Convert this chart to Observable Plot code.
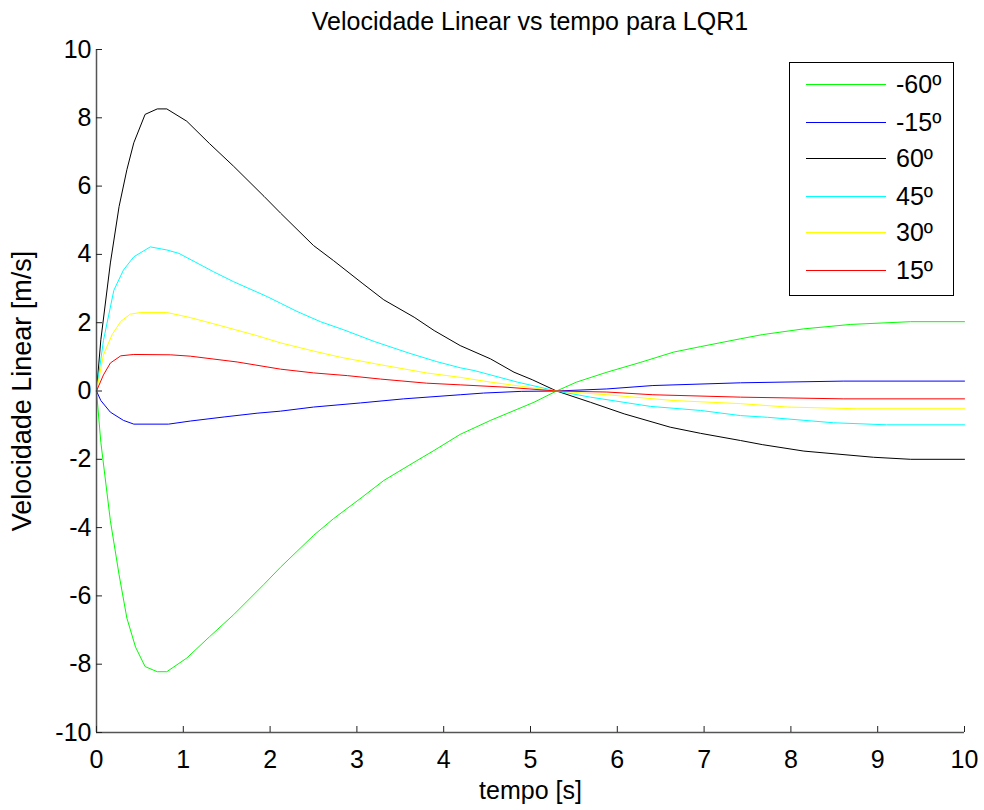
<!DOCTYPE html>
<html>
<head>
<meta charset="utf-8">
<script src="https://cdn.jsdelivr.net/npm/d3@7"></script>
<script src="https://cdn.jsdelivr.net/npm/@observablehq/plot@0.6"></script>
<style>
  body { margin: 0; background: #fff; font-family: "Liberation Sans", Arial, sans-serif; }
  #wrap { position: relative; width: 984px; height: 810px; overflow: hidden; }
  #title { position: absolute; left: 96px; width: 868px; top: 6px; text-align: center; font-size: 25px; line-height: 30px; color: #000; }
  #legend { position: absolute; left: 789px; top: 62px; width: 165px; height: 234px; border: 1.5px solid #000; box-sizing: border-box; background: #fff; }
  .row { position: absolute; left: 0; height: 30px; width: 100%; }
  .sw { position: absolute; left: 16px; width: 80px; top: 15px; height: 1px; }
  .lab { position: absolute; left: 106px; top: 0; font-size: 25px; line-height: 30px; color: #000; }
</style>
</head>
<body>
<div id="wrap">
  <div id="title"></div>
  <div id="chart"></div>
  <div id="legend"></div>
</div>
<script>
// ---- data ----
const chartTitle = "Velocidade Linear vs tempo para LQR1";
const xLabel = "tempo [s]";
const yLabel = "Velocidade Linear [m/s]";
const xTicks = [0, 1, 2, 3, 4, 5, 6, 7, 8, 9, 10];
const yTicks = [-10, -8, -6, -4, -2, 0, 2, 4, 6, 8, 10];

const labels = ["-60º", "-15º", "60º", "45º", "30º", "15º"];
const colors = ["#00ff00", "#0000ff", "#000000", "#00ffff", "#ffff00", "#ff0000"];

// -60º (green)
const tNeg60 = [0, 0.05, 0.16, 0.26, 0.35, 0.45, 0.56, 0.70, 0.81, 1.04, 1.30, 1.58, 1.93, 2.12, 2.50, 2.73, 3.06, 3.31, 3.69, 3.89, 4.19, 4.54, 5.04, 5.30, 5.53, 5.88, 6.27, 6.65, 6.96, 7.42, 7.67, 8.15, 8.69, 9.38, 10];
const vNeg60 = [0, -1.5, -3.80, -5.38, -6.65, -7.50, -8.07, -8.22, -8.22, -7.82, -7.20, -6.55, -5.66, -5.16, -4.23, -3.74, -3.11, -2.62, -2.04, -1.74, -1.27, -0.86, -0.33, 0, 0.26, 0.55, 0.84, 1.14, 1.30, 1.53, 1.65, 1.82, 1.95, 2.03, 2.03];
// -15º (blue)
const tNeg15 = [0, 0.05, 0.16, 0.31, 0.43, 0.83, 1.08, 1.47, 1.85, 2.12, 2.50, 3.04, 3.54, 4.19, 4.46, 4.90, 5.30, 5.88, 6.41, 7.42, 8.61, 10];
const vNeg15 = [0, -0.28, -0.62, -0.86, -0.97, -0.97, -0.88, -0.76, -0.65, -0.59, -0.47, -0.35, -0.23, -0.11, -0.06, -0.01, 0, 0.06, 0.16, 0.24, 0.29, 0.29];
// 60º (black)
const tPos60 = [0, 0.05, 0.16, 0.26, 0.35, 0.43, 0.56, 0.70, 0.81, 1.04, 1.30, 1.58, 1.93, 2.12, 2.50, 2.73, 3.06, 3.31, 3.66, 3.89, 4.19, 4.54, 4.81, 5.02, 5.30, 5.69, 6.08, 6.61, 6.96, 7.42, 7.67, 8.15, 8.95, 9.38, 10];
const vPos60 = [0, 1.5, 3.75, 5.40, 6.48, 7.27, 8.10, 8.26, 8.26, 7.90, 7.25, 6.58, 5.70, 5.21, 4.26, 3.82, 3.16, 2.67, 2.16, 1.77, 1.33, 0.94, 0.55, 0.33, 0, -0.33, -0.67, -1.06, -1.24, -1.45, -1.57, -1.76, -1.94, -2.00, -2.00];
// 45º (cyan)
const tPos45 = [0, 0.08, 0.20, 0.31, 0.43, 0.62, 0.81, 0.95, 1.35, 1.58, 1.97, 2.12, 2.31, 2.58, 2.85, 3.20, 3.60, 3.92, 4.19, 4.35, 4.85, 5.30, 5.69, 6.38, 6.96, 7.42, 7.73, 8.49, 9.10, 10];
const vPos45 = [0, 1.48, 2.95, 3.54, 3.93, 4.22, 4.13, 4.03, 3.49, 3.20, 2.76, 2.57, 2.33, 2.03, 1.79, 1.45, 1.11, 0.86, 0.68, 0.60, 0.26, 0, -0.18, -0.45, -0.57, -0.72, -0.77, -0.93, -0.99, -0.99];
// 30º (yellow)
const tPos30 = [0, 0.08, 0.18, 0.28, 0.39, 0.51, 0.81, 1.08, 1.39, 1.85, 2.12, 2.50, 2.81, 3.27, 3.80, 4.19, 4.54, 5.30, 5.88, 6.65, 7.42, 7.96, 8.76, 10];
const vPos30 = [0, 1.06, 1.65, 2.04, 2.25, 2.30, 2.30, 2.15, 1.94, 1.62, 1.41, 1.17, 0.99, 0.77, 0.53, 0.40, 0.26, 0, -0.11, -0.28, -0.37, -0.47, -0.52, -0.52];
// 15º (red)
const tPos15 = [0, 0.08, 0.16, 0.28, 0.43, 0.85, 1.08, 1.62, 2.12, 2.50, 2.89, 3.27, 3.80, 4.19, 4.73, 5.30, 5.88, 6.41, 7.42, 8.61, 10];
const vPos15 = [0, 0.47, 0.82, 1.03, 1.07, 1.06, 1.02, 0.85, 0.64, 0.53, 0.45, 0.35, 0.23, 0.18, 0.11, 0, -0.03, -0.11, -0.18, -0.23, -0.23];

const times = [tNeg60, tNeg15, tPos60, tPos45, tPos30, tPos15];
const values = [vNeg60, vNeg15, vPos60, vPos45, vPos30, vPos15];

// ---- build ----
const W = 984, H = 810, mL = 96, mR = 20, mT = 49, mB = 78;
const innerW = W - mL - mR, innerH = H - mT - mB;
const tickLen = 6;
const font = '"Liberation Sans", Arial, sans-serif';

const lineMarks = labels.map((lab, i) => {
  const rows = times[i].map((t, j) => ({t, v: values[i][j]}));
  return Plot.line(rows, {x: "t", y: "v", stroke: colors[i], strokeWidth: 1});
});

const chart = Plot.plot({
  width: W, height: H,
  marginLeft: mL, marginRight: mR, marginTop: mT, marginBottom: mB,
  style: {fontFamily: font, fontSize: "25px", color: "#000", background: "#fff"},
  x: {domain: [0, 10]},
  y: {domain: [-10, 10]},
  marks: [
    ...lineMarks,
    // spines
    Plot.ruleX([0], {stroke: "#555", strokeWidth: 1.5}),
    Plot.ruleY([-10], {stroke: "#555", strokeWidth: 1.5}),
    // inward ticks
    Plot.tickX(xTicks, {x: d => d, stroke: "#222", insetTop: innerH - tickLen}),
    Plot.tickY(yTicks, {y: d => d, stroke: "#222", insetRight: innerW - tickLen}),
    // axes labels
    Plot.axisX(xTicks, {tickSize: 0, tickPadding: 18, fontSize: 25, tickFormat: d => String(d), label: xLabel, labelAnchor: "center", labelOffset: 66, labelArrow: "none"}),
    Plot.axisY(yTicks, {tickSize: 0, tickPadding: 5, fontSize: 25, tickFormat: d => String(d), label: null}),
    Plot.axisY(yTicks, {tickSize: 0, ticks: [], tickFormat: () => "", fontSize: 27, label: yLabel, labelAnchor: "center", labelOffset: 85, labelArrow: "none"})
  ]
});
document.getElementById("chart").appendChild(chart);
document.getElementById("title").textContent = chartTitle;

// legend
const leg = document.getElementById("legend");
const rowTops = [6, 44, 80, 118, 154, 192];
labels.forEach((lab, i) => {
  const r = document.createElement("div");
  r.className = "row";
  r.style.top = rowTops[i] + "px";
  const sw = document.createElement("div");
  sw.className = "sw";
  sw.style.background = colors[i];
  const tx = document.createElement("div");
  tx.className = "lab";
  tx.textContent = lab;
  r.appendChild(sw); r.appendChild(tx);
  leg.appendChild(r);
});
</script>
</body>
</html>
